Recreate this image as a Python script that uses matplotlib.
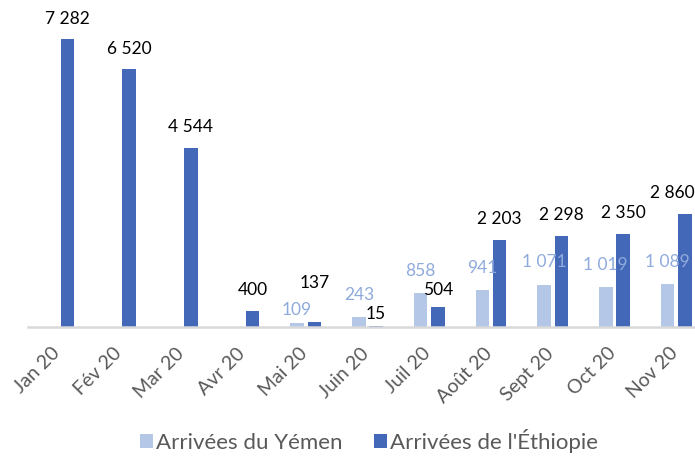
import numpy as np
import matplotlib
matplotlib.use('Agg')
from matplotlib import pyplot as plt
from matplotlib.transforms import ScaledTranslation

months = ['Jan 20', 'Fév 20', 'Mar 20', 'Avr 20', 'Mai 20', 'Juin 20',
          'Juil 20', 'Août 20', 'Sept 20', 'Oct 20', 'Nov 20']
yemen = [0, 0, 0, 0, 109, 243, 858, 941, 1071, 1019, 1089]
ethiopie = [7282, 6520, 4544, 400, 137, 15, 504, 2203, 2298, 2350, 2860]

def fmt(v):
    return '{:,}'.format(v).replace(',', ' ')

plt.rcParams['font.family'] = ['Lato', 'DejaVu Sans']

fig = plt.figure(figsize=(6.95, 4.57), dpi=100)
ax = fig.add_axes([28/695, 130/457, 679/695, 316/457])

x = np.arange(len(months))
w = 0.22
light = '#b4c7e7'
dark = '#4368b8'

b1 = ax.bar(x - 0.14, yemen, w, color=light, label='Arrivées du Yémen')
b2 = ax.bar(x + 0.14, ethiopie, w, color=dark, label="Arrivées de l'Éthiopie")

# label offsets in points above the bar top (Excel nudged a few)
off_y = {4: 9}
off_e = {4: 28, 5: 9, 6: 12}
for i, v in enumerate(yemen):
    if v > 0:
        ax.annotate(fmt(v), (x[i] - 0.14, v), xytext=(0, off_y.get(i, 16)),
                    textcoords='offset points', ha='center', va='center',
                    fontsize=12.5, color='#8faadc')
for i, v in enumerate(ethiopie):
    dx = -9 if i == len(x) - 1 else 0
    ax.annotate(fmt(v), (x[i] + 0.14, v), xytext=(dx, off_e.get(i, 15)),
                textcoords='offset points', ha='center', va='center',
                fontsize=12.5, color='black')

ax.set_xlim(-0.5, len(months) - 0.5)
ax.set_ylim(0, 8000)
ax.set_yticks([])
ax.set_xticks(x)
ax.set_xticklabels(months, rotation=45, ha='right', va='center',
                   rotation_mode='anchor', fontsize=14, color='#595959')
ax.tick_params(axis='x', length=0, pad=17)
shift = ScaledTranslation(-1/72, 0, fig.dpi_scale_trans)
for lab in ax.get_xticklabels():
    lab.set_transform(lab.get_transform() + shift)
for s in ['top', 'right', 'left']:
    ax.spines[s].set_visible(False)
ax.spines['bottom'].set_color('#d9d9d9')
ax.spines['bottom'].set_linewidth(1.8)

fig.legend(handles=[b1, b2], loc='center', bbox_to_anchor=(369/695, 1 - 441/457),
           ncol=2, frameon=False, fontsize=16, labelcolor='#595959',
           handlelength=0.6, handleheight=0.6, handletextpad=0.15, columnspacing=1.4)

fig.savefig('out.png', dpi=100)
